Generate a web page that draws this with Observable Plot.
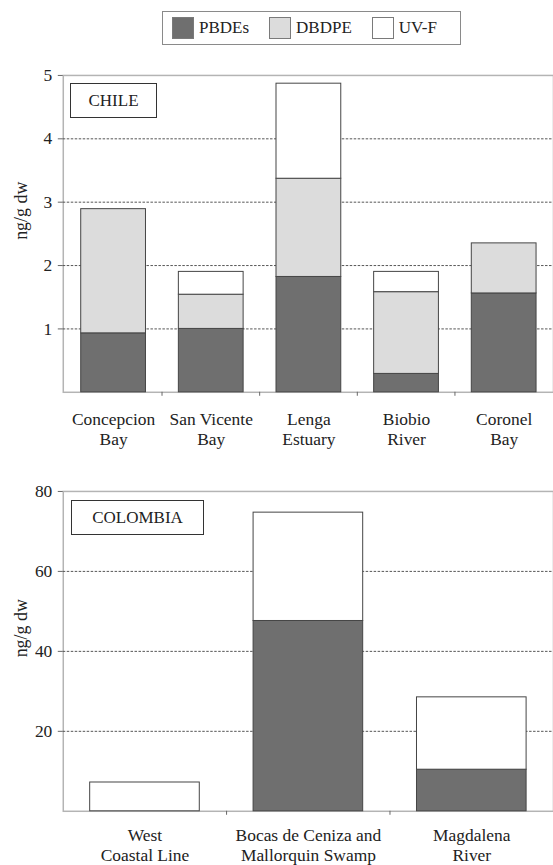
<!DOCTYPE html>
<html>
<head>
<meta charset="utf-8">
<script src="https://cdn.jsdelivr.net/npm/d3@7"></script>
<script src="https://cdn.jsdelivr.net/npm/@observablehq/plot@0.6"></script>
<style>
  html, body { margin: 0; padding: 0; background: #fff; }
  body { position: relative; width: 553px; height: 865px; overflow: hidden;
         font-family: "Liberation Serif", "DejaVu Serif", serif; color: #222; }
  .legend { position: absolute; left: 162px; top: 11px; width: 288px; height: 32px;
            border: 1px solid #8a8a8a; display: flex; align-items: center; padding-left: 9px;
            box-sizing: content-box; font-size: 17px; }
  .legend .item { display: flex; align-items: center; margin-right: 20px; }
  .legend .sw { width: 20px; height: 20px; border: 1px solid #7a7a7a; margin-right: 5px; }
  .tag { position: absolute; border: 1.5px solid #333; box-sizing: border-box;
         display: flex; align-items: center; justify-content: center; font-size: 17px; background: #fff; }
  .panel { position: absolute; left: 0; }
</style>
</head>
<body>
<div class="legend" id="legend"></div>
<div class="panel" id="chile" style="top:60px"></div>
<div class="tag" style="left:70px; top:83px; width:87px; height:35px">CHILE</div>
<div class="panel" id="colombia" style="top:476px"></div>
<div class="tag" style="left:71px; top:500px; width:133px; height:35px">COLOMBIA</div>
<script>
// Series stacked from bottom to top
const series = ["PBDEs", "DBDPE", "UV-F"];
const seriesFill = ["#6f6f6f", "#dcdcdc", "#ffffff"];

// Chile sites (ng/g dw)
const chileSites = ["Concepcion\nBay", "San Vicente\nBay", "Lenga\nEstuary", "Biobio\nRiver", "Coronel\nBay"];
const chilePBDEs = [0.93, 1.00, 1.82, 0.29, 1.56];
const chileDBDPE = [1.96, 0.54, 1.55, 1.29, 0.79];
const chileUVF   = [0.00, 0.36, 1.50, 0.32, 0.00];
const chileTicks = [1, 2, 3, 4, 5];

// Colombia sites (ng/g dw)
const colombiaSites = ["West\nCoastal Line", "Bocas de Ceniza and\nMallorquin Swamp", "Magdalena\nRiver"];
const colombiaPBDEs = [0.0, 47.6, 10.4];
const colombiaDBDPE = [0.0, 0.0, 0.0];
const colombiaUVF   = [7.2, 27.1, 18.1];
const colombiaTicks = [20, 40, 60, 80];

const yTitle = "ng/g dw";
const serif = "Liberation Serif";

// Legend
const legend = document.getElementById("legend");
series.forEach((s, i) => {
  const item = document.createElement("div");
  item.className = "item";
  const sw = document.createElement("div");
  sw.className = "sw";
  sw.style.background = seriesFill[i];
  const label = document.createElement("span");
  label.textContent = s;
  item.append(sw, label);
  legend.append(item);
});

function panel(o) {
  const data = o.sites.flatMap((site, i) =>
    series.map((s, j) => ({site, series: s, value: o.values[j][i]}))
  ).filter(d => d.value > 0);
  const left = 63, right = 555;
  // band step, used to put the small ticks between the bars
  const step = (right - left) / (o.sites.length - o.paddingInner + 2 * o.paddingOuter);
  return Plot.plot({
    width: 555,
    height: o.height,
    marginTop: 15,
    marginBottom: o.marginBottom,
    marginLeft: left,
    marginRight: 0,
    style: {background: "transparent", overflow: "visible"},
    x: {domain: o.sites, paddingInner: o.paddingInner, paddingOuter: o.paddingOuter, label: null},
    y: {domain: [0, o.yMax], label: null},
    color: {domain: series, range: seriesFill},
    marks: [
      Plot.frame({stroke: "#b4b4b4", strokeWidth: 1.5}),
      Plot.ruleY(o.grid, {stroke: "#555", strokeDasharray: "2.5,1.5"}),
      Plot.barY(data, {x: "site", y: "value", fill: "series", stroke: "#454545", strokeWidth: 1}),
      Plot.axisY(o.ticks, {tickSize: 5, tickPadding: 6, stroke: "#666", fill: "#222", fontSize: 17.5, fontFamily: serif, tickFormat: d => String(d), label: null}),
      Plot.axisX({tickSize: 0, tickPadding: o.tickPadding, lineHeight: 1.18, fill: "#222", fontSize: 17.5, fontFamily: serif, label: null}),
      Plot.axisX(o.sites.slice(1), {tickSize: 4, dx: -step / 2, tickFormat: () => "", stroke: "#666", label: null}),
      Plot.text([yTitle], {text: d => d, frameAnchor: "left", rotate: -90, dx: -42, dy: 6, fill: "#222", fontSize: 18, fontFamily: serif})
    ]
  });
}

document.getElementById("chile").append(panel({
  sites: chileSites,
  values: [chilePBDEs, chileDBDPE, chileUVF],
  yMax: 5, ticks: chileTicks, grid: chileTicks.slice(0, -1),
  height: 400, marginBottom: 67, tickPadding: 18,
  paddingInner: 0.34, paddingOuter: 0.16
}));

document.getElementById("colombia").append(panel({
  sites: colombiaSites,
  values: [colombiaPBDEs, colombiaDBDPE, colombiaUVF],
  yMax: 80, ticks: colombiaTicks, grid: colombiaTicks.slice(0, -1),
  height: 389, marginBottom: 53, tickPadding: 15,
  paddingInner: 0.33, paddingOuter: 0.163
}));
</script>
</body>
</html>
